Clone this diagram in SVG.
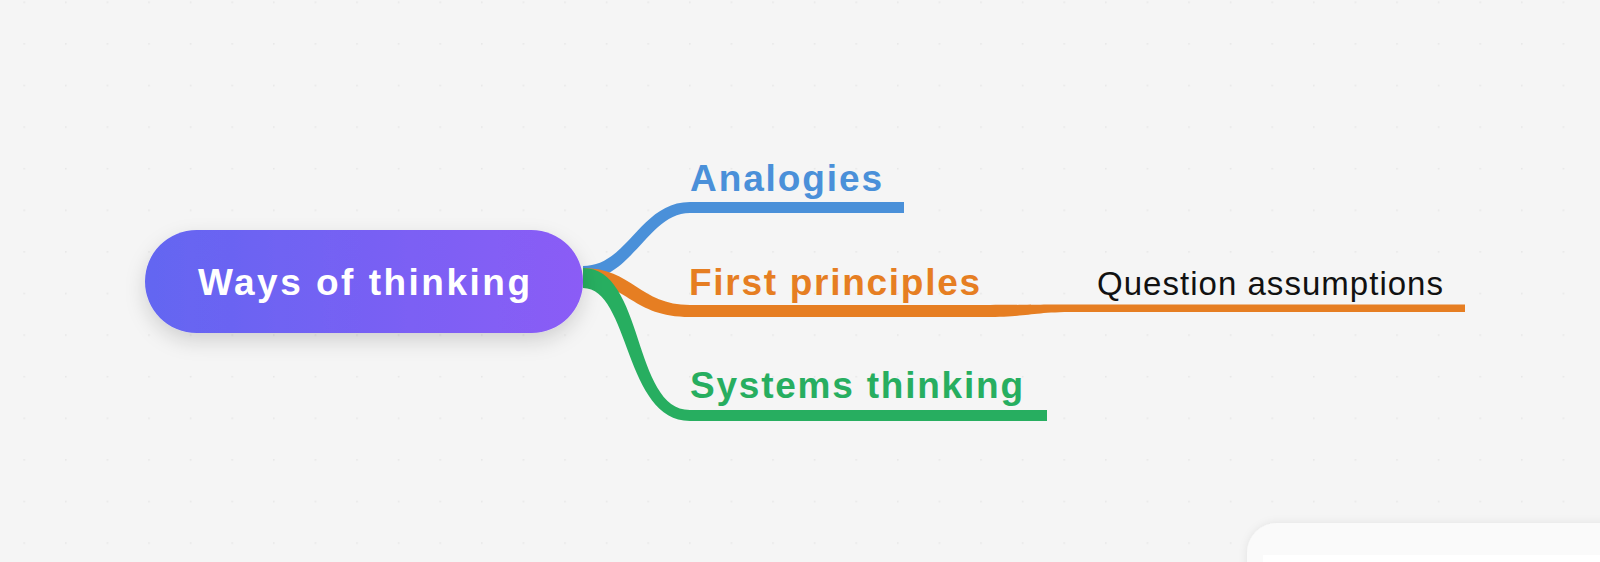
<svg xmlns="http://www.w3.org/2000/svg" width="1600" height="562" viewBox="0 0 1600 562">
<style>
.lbl{font-family:"Liberation Sans",Arial,sans-serif;font-weight:700;font-size:37px}
.sub{font-family:"Liberation Sans",Arial,sans-serif;font-weight:400;font-size:33px;fill:#111111}
</style>
<defs>
<pattern id="dots" width="41.6" height="41.6" patternUnits="userSpaceOnUse" x="23.4" y="1.5">
<circle cx="0.8" cy="0.8" r="0.9" fill="#e6e6e6"/>
</pattern>
<linearGradient id="rootGrad" x1="0" y1="0" x2="1" y2="0">
<stop offset="0" stop-color="#6366f1"/>
<stop offset="1" stop-color="#8b5cf6"/>
</linearGradient>
<filter id="shadow" x="-20%" y="-40%" width="140%" height="200%">
<feDropShadow dx="0" dy="8" stdDeviation="10" flood-color="#000" flood-opacity="0.15"/>
</filter>
<filter id="cardShadow" x="-20%" y="-50%" width="140%" height="200%">
<feDropShadow dx="0" dy="0" stdDeviation="4" flood-color="#000" flood-opacity="0.08"/>
</filter>
</defs>
<rect width="1600" height="562" fill="#f5f5f5"/>
<rect width="1600" height="562" fill="url(#dots)"/>
<g id="connectors">
<path d="M583,266 C628,266 640,202 690,202 L904,202 L904,213 L690,213 C648,213 632,280 583,280 Z" fill="#4a90d9"/>
<path d="M583,268 C632,268 640,305 690,305 L990,305 L990,317 L690,317 C632,317 628,283 583,283 Z" fill="#e67e22"/>
<path d="M985,305 C1030,305 1030,304.5 1075,304.5 L1465,304.5 L1465,312 L1075,312 C1030,312 1030,317 985,317 Z" fill="#e67e22"/>
<path d="M583,268 C645,268 632,410 690,410 L1047,410 L1047,421 L690,421 C624,421 630,288 583,288 Z" fill="#27ae60"/>
</g>
<g id="root">
<rect x="145" y="230" width="438" height="103" rx="51.5" fill="url(#rootGrad)" filter="url(#shadow)"/>
<text x="198" y="295" class="lbl" font-size="40" fill="#ffffff" textLength="332" lengthAdjust="spacing">Ways of thinking</text>
</g>
<g id="analogies">
<text x="690" y="191" class="lbl" fill="#4a90d9" textLength="192" lengthAdjust="spacing">Analogies</text>
</g>
<g id="first-principles">
<text x="689" y="295" class="lbl" fill="#e67e22" textLength="291" lengthAdjust="spacing">First principles</text>
</g>
<g id="systems-thinking">
<text x="690" y="398" class="lbl" fill="#27ae60" textLength="333" lengthAdjust="spacing">Systems thinking</text>
</g>
<g id="question-assumptions">
<text x="1097" y="295" class="sub" textLength="346" lengthAdjust="spacing">Question assumptions</text>
</g>
<g id="panel">
<rect x="1247" y="523" width="420" height="120" rx="30" fill="#fafafa" filter="url(#cardShadow)"/>
<rect x="1263" y="555" width="400" height="40" fill="#ffffff"/>
</g>
</svg>
